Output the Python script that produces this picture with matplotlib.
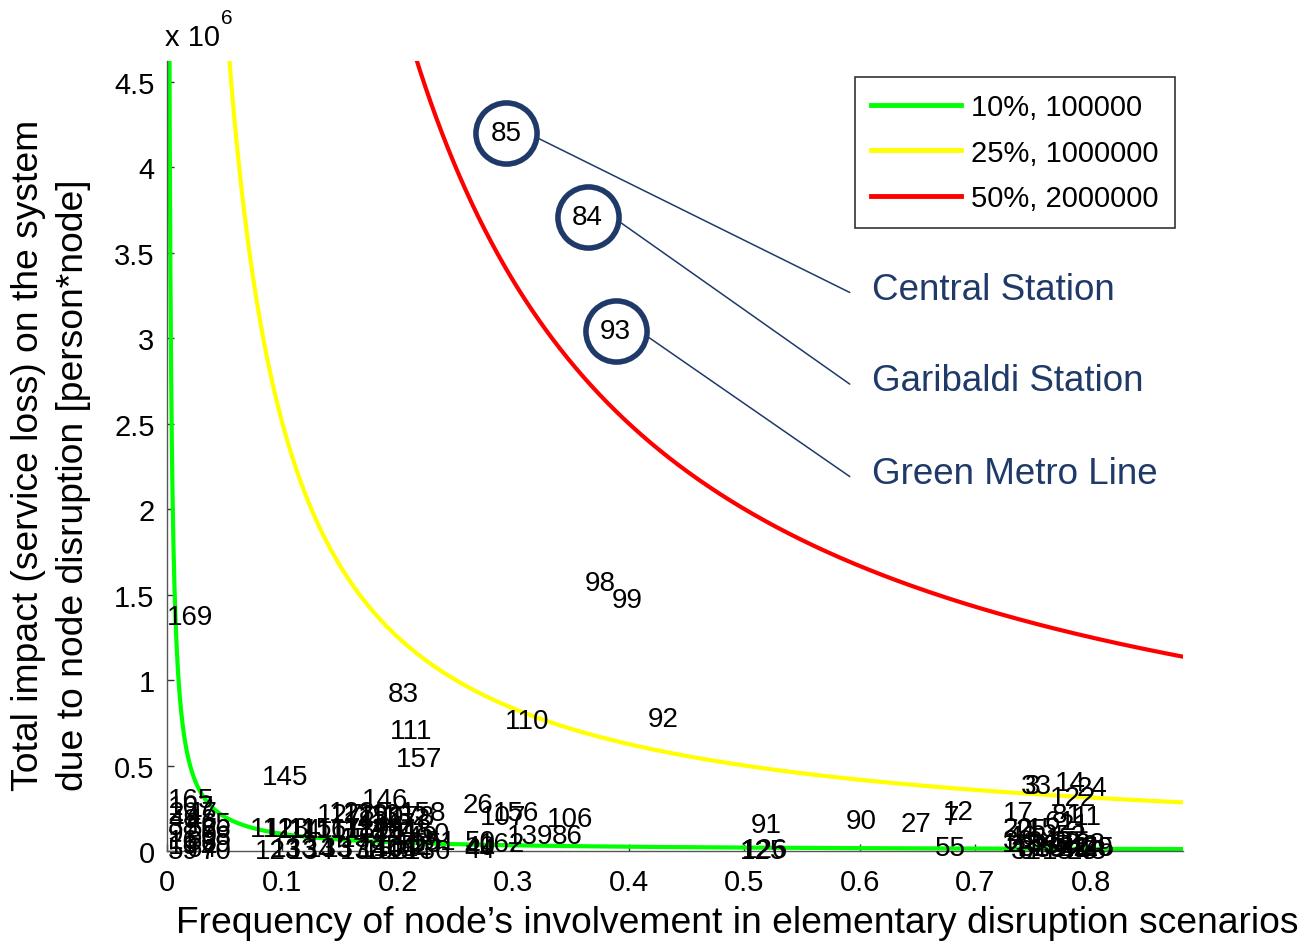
import matplotlib
matplotlib.use("Agg")
import matplotlib.pyplot as plt
import matplotlib.transforms as mtransforms
import numpy as np

plt.rcParams['font.family'] = ['Liberation Sans', 'DejaVu Sans']

# iso-impact curves: impact = share * population / frequency
curve_share = [0.10, 0.25, 0.50]
curve_population = [100000, 1000000, 2000000]
curve_colors = ['#00ff00', '#ffff00', '#ff0000']
curve_labels = ['10%, 100000', '25%, 1000000', '50%, 2000000']

# node labels: id, frequency, impact (x 1e6)
node_ids = [
    '169', '145', '83', '111', '157', '110', '92', '98', '99',
    '146', '158', '178', '26', '107', '156', '106', '139', '86',
    '50', '40', '44', '162', '91', '125', '126', '90', '27', '7', '12', '55',
    '33', '3', '14', '24', '122', '17', '81', '61', '11', '20', '25', '15', '21',
    # cluster near zero frequency
    '165', '167', '2', '49', '38', '9', '16', '19', '59',
    '47', '48', '57', '60', '63', '64', '65', '66', '68', '69', '70',
    # cluster 0.07 - 0.23
    '112', '113', '114', '115', '116', '117', '118', '119', '120', '121',
    '127', '128', '129', '130', '131', '132',
    '123', '133', '134', '135', '136', '137', '138', '140', '141',
    '143', '144', '147', '148', '149', '150', '151', '152', '153', '154', '155', '159',
    # cluster near 0.75
    '1', '4', '6', '8', '10', '13', '18', '22', '23', '28', '29', '30', '31',
    '32', '34', '35', '37', '39', '41', '42', '43', '45', '46', '51', '52',
    # highlighted nodes
    '85', '84', '93',
]
node_freq = [
    0.000, 0.082, 0.191, 0.193, 0.198, 0.293, 0.416, 0.362, 0.385,
    0.169, 0.202, 0.192, 0.256, 0.271, 0.282, 0.329, 0.294, 0.333,
    0.258, 0.258, 0.258, 0.270, 0.506, 0.496, 0.498, 0.588, 0.635, 0.673, 0.672, 0.665,
    0.740, 0.743, 0.769, 0.788, 0.765, 0.724, 0.766, 0.760, 0.785, 0.724, 0.735, 0.745, 0.772,
    0.001, 0.001, 0.001, 0.001, 0.001, 0.001, 0.001, 0.001, 0.001,
    0.017, 0.017, 0.017, 0.017, 0.017, 0.017, 0.029, 0.029, 0.029, 0.029, 0.029,
    0.072, 0.085, 0.095, 0.105, 0.118, 0.130, 0.142, 0.155, 0.165, 0.178,
    0.130, 0.140, 0.152, 0.165, 0.176, 0.186,
    0.076, 0.090, 0.105, 0.120, 0.206, 0.135, 0.150, 0.165, 0.178,
    0.152, 0.165, 0.176, 0.190, 0.195, 0.205, 0.210, 0.185, 0.170, 0.190, 0.198, 0.150,
    0.723, 0.730, 0.737, 0.744, 0.751, 0.758, 0.765, 0.772, 0.779, 0.786, 0.793, 0.724, 0.731,
    0.738, 0.745, 0.752, 0.759, 0.766, 0.773, 0.780, 0.787, 0.794, 0.727, 0.748, 0.770,
    0.280, 0.351, 0.375,
]
node_impact = [
    1.37, 0.43, 0.92, 0.70, 0.54, 0.76, 0.77, 1.57, 1.47,
    0.30, 0.22, 0.20, 0.27, 0.20, 0.22, 0.19, 0.09, 0.09,
    0.05, 0.025, 0.005, 0.04, 0.15, 0.00, 0.005, 0.175, 0.16, 0.20, 0.23, 0.02,
    0.38, 0.38, 0.40, 0.37, 0.31, 0.22, 0.21, 0.17, 0.20, 0.13, 0.12, 0.13, 0.15,
    0.30, 0.26, 0.22, 0.18, 0.14, 0.10, 0.06, 0.03, 0.00,
    0.22, 0.18, 0.13, 0.09, 0.05, 0.01, 0.16, 0.12, 0.08, 0.04, 0.00,
    0.13, 0.13, 0.12, 0.13, 0.12, 0.13, 0.12, 0.13, 0.12, 0.13,
    0.21, 0.22, 0.21, 0.20, 0.21, 0.20,
    0.00, 0.01, 0.00, 0.01, 0.00, 0.01, 0.00, 0.01, 0.02,
    0.17, 0.14, 0.16, 0.12, 0.08, 0.10, 0.05, 0.03, 0.00, 0.00, 0.04, 0.07,
    0.04, 0.02, 0.00, 0.04, 0.02, 0.00, 0.04, 0.02, 0.00, 0.04, 0.02, 0.06, 0.00,
    0.02, 0.05, 0.01, 0.03, 0.05, 0.01, 0.03, 0.00, 0.02, 0.08, 0.07, 0.09,
    4.20, 3.71, 3.04,
]

highlight_ids = ['85', '84', '93']
highlight_names = ['Central Station', 'Garibaldi Station', 'Green Metro Line']
name_pos = [(0.694, 0.711), (0.694, 0.595), (0.694, 0.478)]

navy = '#1f3a68'

fig = plt.figure(figsize=(13.03, 9.45), dpi=100)
ax = fig.add_axes([167 / 1303, 93 / 945, 1016 / 1303, 790 / 945])

x = np.linspace(0.0015, 0.88, 3000)
for share, pop, col, lab in zip(curve_share, curve_population, curve_colors, curve_labels):
    ax.plot(x, share * pop / x / 1e6, color=col, lw=3, label=lab, zorder=2)

for nid, fx, fy in zip(node_ids, node_freq, node_impact):
    ax.text(fx, fy, nid, fontsize=20, ha='left', va='center', color='black', zorder=4)

# circles and callouts
for nid, name, (tx, ty) in zip(highlight_ids, highlight_names, name_pos):
    i = node_ids.index(nid)
    cen = mtransforms.offset_copy(ax.transData, fig, x=16, y=0, units='dots')
    ax.plot([node_freq[i]], [node_impact[i]], marker='o', ms=44, mfc='none',
            mec=navy, mew=4, transform=cen, zorder=5, clip_on=False)
    start = mtransforms.offset_copy(ax.transData, fig, x=47, y=-5, units='dots')
    ax.annotate('', xy=(tx - 0.022, ty - 0.004), xycoords='axes fraction',
                xytext=(node_freq[i], node_impact[i]), textcoords=start,
                arrowprops=dict(arrowstyle='-', color=navy, lw=1.1, shrinkA=0, shrinkB=0))
    ax.text(tx, ty, name, transform=ax.transAxes, fontsize=26.5, color=navy,
            ha='left', va='center')

ax.set_xlim(0, 0.88)
ax.set_ylim(0, 4.62)
ax.set_xticks(np.arange(0, 0.81, 0.1))
ax.set_xticklabels(['0', '0.1', '0.2', '0.3', '0.4', '0.5', '0.6', '0.7', '0.8'])
ax.set_yticks(np.arange(0, 4.51, 0.5))
ax.set_yticklabels(['0', '0.5', '1', '1.5', '2', '2.5', '3', '3.5', '4', '4.5'])
ax.tick_params(axis='both', direction='in', length=5, width=1, labelsize=21, color='#333333')
ax.tick_params(axis='x', pad=12)
ax.tick_params(axis='y', pad=9)
for s in ['top', 'right']:
    ax.spines[s].set_visible(False)
for s in ['left', 'bottom']:
    ax.spines[s].set_color('#555555')
    ax.spines[s].set_linewidth(1)

fig.text(165 / 1303, 1 - 38 / 945, 'x 10', fontsize=21, ha='left', va='center')
fig.text(221 / 1303, 1 - 18 / 945, '6', fontsize=15, ha='left', va='center')

leg = ax.legend(loc='upper right', bbox_to_anchor=(1175 / 1303, 1 - 78 / 945),
                bbox_transform=fig.transFigure, fontsize=21, frameon=True,
                fancybox=False, handlelength=3.1, handletextpad=0.35,
                labelspacing=0.6, borderpad=0.55, borderaxespad=0)
leg.get_frame().set_edgecolor('black')
leg.get_frame().set_linewidth(1.2)
for ln in leg.get_lines():
    ln.set_linewidth(3.5)

fig.text(737 / 1303, 1 - 924 / 945,
         'Frequency of node\u2019s involvement in elementary disruption scenarios',
         fontsize=26.8, ha='center', va='center')
fig.text(51 / 1303, 1 - 455 / 945,
         'Total impact (service loss) on the system\ndue to node disruption [person*node]',
         fontsize=26.8, rotation=90, ha='center', va='center', multialignment='left',
         linespacing=1.4)

fig.savefig('out.png', dpi=100)
